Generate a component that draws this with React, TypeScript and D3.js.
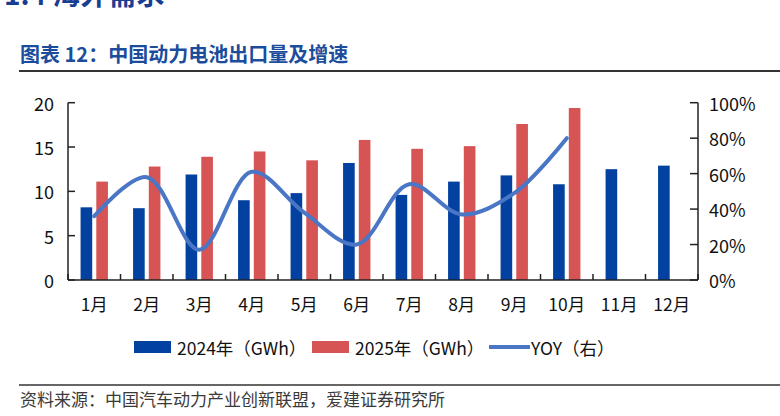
import React from 'react';
import * as d3 from 'd3';

// --- Data ---
const months = ['1月', '2月', '3月', '4月', '5月', '6月', '7月', '8月', '9月', '10月', '11月', '12月'];
const export2024 = [8.2, 8.1, 11.9, 9.0, 9.8, 13.2, 9.6, 11.1, 11.8, 10.8, 12.5, 12.9];
const export2025 = [11.1, 12.8, 13.9, 14.5, 13.5, 15.8, 14.8, 15.1, 17.6, 19.4];
const yoy = [36, 58, 17, 61, 38, 20, 54, 37, 49, 80];
const leftTicks = [0, 5, 10, 15, 20];
const rightTicks = [0, 20, 40, 60, 80, 100];
const seriesKeys = ['2024', '2025'];

const FONT = '"Noto Sans CJK SC", "Microsoft YaHei", sans-serif';
const BLUE = '#0341A1';
const RED = '#D65454';
const LINE = '#4A76C6';
const AXIS = '#222';

const plot = { left: 68, right: 698, top: 102.7, bottom: 280 };

export default function App() {
  const x = d3.scaleBand<string>().domain(months).range([plot.left, plot.right]).padding(0);
  const x1 = d3.scaleBand<string>().domain(seriesKeys).range([0, x.bandwidth()])
    .paddingInner(0.26).paddingOuter(0.8);
  const y = d3.scaleLinear().domain([0, 20]).range([plot.bottom, plot.top]);
  const yR = d3.scaleLinear().domain([0, 100]).range([plot.bottom, plot.top]);

  const line = d3.line<number>()
    .x((_, i) => (x(months[i]) ?? 0) + x.bandwidth() / 2)
    .y(d => yR(d))
    .curve(d3.curveCatmullRom.alpha(0.5));

  const boundaries = d3.range(months.length + 1).map(i => plot.left + i * x.bandwidth());

  return (
    <svg width={780} height={416} style={{ position: 'absolute', left: 0, top: 0 }} fontFamily={FONT}>
      <rect width={780} height={416} fill="#fff" />

      {/* section heading, partly cut off at the top */}
      <text x={4} y={5} fontSize={28} fontWeight="bold" fill="#173E93">1.4  海外需求</text>

      <text x={20} y={62} fontSize={20} fontWeight="bold" fill="#1C4C9C">图表 12：中国动力电池出口量及增速</text>
      <line x1={19} x2={780} y1={71} y2={71} stroke="#333" strokeWidth={2} />

      {/* bars */}
      {export2024.map((v, i) => (
        <rect key={'a' + i} x={(x(months[i]) ?? 0) + (x1('2024') ?? 0)} width={x1.bandwidth()}
          y={y(v)} height={plot.bottom - y(v)} fill={BLUE} />
      ))}
      {export2025.map((v, i) => (
        <rect key={'b' + i} x={(x(months[i]) ?? 0) + (x1('2025') ?? 0)} width={x1.bandwidth()}
          y={y(v)} height={plot.bottom - y(v)} fill={RED} />
      ))}

      {/* yoy line */}
      <path d={line(yoy) ?? ''} fill="none" stroke={LINE} strokeWidth={4} strokeLinecap="round" />

      {/* axes */}
      <line x1={plot.left} x2={plot.left} y1={plot.top} y2={plot.bottom} stroke={AXIS} strokeWidth={1.5} />
      <line x1={plot.right} x2={plot.right} y1={plot.top} y2={plot.bottom} stroke={AXIS} strokeWidth={1.5} />
      <line x1={plot.left} x2={plot.right} y1={plot.bottom} y2={plot.bottom} stroke={AXIS} strokeWidth={1.5} />

      {leftTicks.map(t => (
        <g key={'l' + t}>
          <line x1={plot.left} x2={plot.left + 7} y1={y(t)} y2={y(t)} stroke={AXIS} strokeWidth={1.5} />
          <text x={54} y={y(t)} textAnchor="end" dominantBaseline="central" fontSize={18} fill="#111">{t}</text>
        </g>
      ))}
      {rightTicks.map(t => (
        <g key={'r' + t}>
          <line x1={plot.right - 8} x2={plot.right} y1={yR(t)} y2={yR(t)} stroke={AXIS} strokeWidth={1.5} />
          <text x={709} y={yR(t)} dominantBaseline="central" fontSize={18} fill="#111">{t}%</text>
        </g>
      ))}
      {boundaries.map((bx, i) => (
        <line key={'t' + i} x1={bx} x2={bx} y1={plot.bottom - 6} y2={plot.bottom} stroke={AXIS} strokeWidth={1.5} />
      ))}
      {months.map(m => (
        <text key={m} x={(x(m) ?? 0) + x.bandwidth() / 2} y={303} textAnchor="middle"
          dominantBaseline="central" fontSize={17.5} fill="#111">{m}</text>
      ))}

      {/* legend */}
      <rect x={134} y={341} width={37} height={12} fill={BLUE} />
      <text x={177} y={347} dominantBaseline="central" fontSize={17.5} fill="#111">2024年（GWh）</text>
      <rect x={312} y={341} width={37} height={12} fill={RED} />
      <text x={355} y={347} dominantBaseline="central" fontSize={17.5} fill="#111">2025年（GWh）</text>
      <line x1={489} x2={530} y1={347} y2={347} stroke={LINE} strokeWidth={4} />
      <text x={531} y={347} dominantBaseline="central" fontSize={17.5} fill="#111">YOY（右）</text>

      <line x1={19} x2={780} y1={385} y2={385} stroke="#333" strokeWidth={1.5} />
      <text x={20} y={406} fontSize={17} fill="#3a3a3a">资料来源：中国汽车动力产业创新联盟，爱建证券研究所</text>
    </svg>
  );
}
